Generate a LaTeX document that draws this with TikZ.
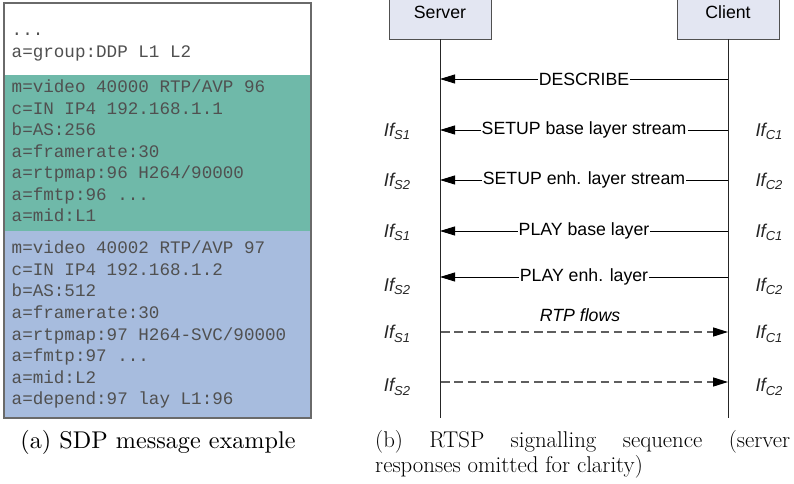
\documentclass[tikz,border=0pt]{standalone}
\usepackage{fontspec}
\newfontfamily\arial{Liberation Sans}
\newfontfamily\cour{Liberation Mono}
\usetikzlibrary{arrows.meta}

\definecolor{sdpteal}{HTML}{6FB9A9}
\definecolor{sdpblue}{HTML}{A7BCDE}
\definecolor{sdptext}{HTML}{505050}
\definecolor{sdpframe}{HTML}{6A6A6A}
\definecolor{actorfill}{HTML}{E3E6F2}
\definecolor{actorline}{HTML}{505050}
\definecolor{flowgray}{HTML}{5E5E5E}

\tikzset{
  sdp/.style={font=\cour\fontsize{17.6bp}{21.5bp}\selectfont, text=sdptext,
    anchor=base west, inner sep=0pt},
  actor/.style={draw=actorline, fill=actorfill, line width=0.9bp,
    minimum width=102bp, minimum height=54bp, inner sep=0pt,
    font=\arial\fontsize{17.7bp}{20bp}\selectfont},
  lifeline/.style={line width=0.9bp, draw=black!85},
  msg/.style={font=\arial\fontsize{17.7bp}{20bp}\selectfont, fill=white,
    inner sep=1.2bp},
  iface/.style={font=\arial\itshape\fontsize{18.5bp}{20bp}\selectfont,
    inner sep=0pt, anchor=base, text=black!85},
  call/.style={line width=0.9bp, -{Triangle[length=15bp,width=9bp]}},
  flow/.style={line width=1.4bp, draw=flowgray, dash pattern=on 8.5bp off 4.8bp,
    -{Triangle[length=15bp,width=9bp,color=black]}},
  captext/.style={font=\fontsize{22.8bp}{26bp}\selectfont, inner sep=0pt, anchor=base west},
}

% interface label with an italic subscript
\newcommand{\ifl}[1]{If\raisebox{-3.5bp}{\fontsize{13bp}{13bp}\selectfont #1}}
% three dots typed as plain periods
\newcommand{\tdots}{...}

\begin{document}
\begin{tikzpicture}[x=1bp,y=-1bp]
\useasboundingbox (0,0) rectangle (794,484);
\clip (0,0) rectangle (794,484);

% ---------- SDP message ----------
\fill[white]    (4,3)   rectangle (311,75);
\fill[sdpteal]  (4,75)  rectangle (311,231);
\fill[sdpblue]  (4,231) rectangle (311,418);
\draw[sdpframe, line width=2bp] (4,3) rectangle (311,418);

\foreach \txt [count=\i] in {{\tdots},{a=group:DDP L1 L2}}
  \node[sdp] (w\i) at (11.5,{36+21.5*(\i-1)}) {\txt};

\foreach \txt [count=\i] in {{m=video 40000 RTP/AVP 96},{c=IN IP4 192.168.1.1},
    {b=AS:256},{a=framerate:30},{a=rtpmap:96 H264/90000},{a=fmtp:96 \tdots},{a=mid:L1}}
  \node[sdp] (t\i) at (11.5,{93+21.5*(\i-1)}) {\txt};

\foreach \txt [count=\i] in {{m=video 40002 RTP/AVP 97},{c=IN IP4 192.168.1.2},
    {b=AS:512},{a=framerate:30},{a=rtpmap:97 H264-SVC/90000},{a=fmtp:97 \tdots},
    {a=mid:L2},{a=depend:97 lay L1:96}}
  \node[sdp] (b\i) at (11.5,{254+21.5*(\i-1)}) {\txt};

\node[inner sep=0pt, anchor=base] (capa) at (158,448)
  {\scalebox{2.42}{\fontsize{10bp}{12bp}\selectfont (a) SDP message example}};

% ---------- RTSP sequence ----------
\node[actor] (srv) at (440,12) {Server};
\node[actor] (cli) at (728,12) {Client};
\coordinate (srvend) at (440,418);
\coordinate (cliend) at (728,418);
\draw[lifeline] (srv.south) -- (srvend);
\draw[lifeline] (cli.south) -- (cliend);

% requests from client to server
\foreach \yy/\lab [count=\i] in {79/DESCRIBE,130/SETUP base layer stream,
    180/SETUP enh. layer stream,231/PLAY base layer,277/PLAY enh. layer} {
  \coordinate (rc\i) at (728,\yy);
  \coordinate (rs\i) at (440,\yy);
  \draw[call] (rc\i) -- node[msg] (m\i) {\lab} (rs\i);
}

% media flows from server to client
\coordinate (fs1) at (441,332);
\coordinate (fc1) at (728,332);
\coordinate (fs2) at (441,382);
\coordinate (fc2) at (728,382);
\draw[flow] (fs1) -- (fc1);
\draw[flow] (fs2) -- (fc2);
\node[font=\arial\itshape\fontsize{17.7bp}{20bp}\selectfont, inner sep=0pt]
  (rtp) at (580,315) {RTP flows};

% interface labels
\foreach \yy/\n [count=\i] in {130/1,180/2,231/1,285/2,332/1,385/2} {
  \node[iface] (ls\i) at (397,\yy+6.5) {\ifl{S\n}};
  \node[iface] (lc\i) at (769,\yy+6.5) {\ifl{C\n}};
}

\node[captext] (capb1) at (375,447)
  {\makebox[415bp][s]{(b) RTSP signalling sequence (server}};
\node[captext] (capb2) at (375,472) {responses omitted for clarity)};
\end{tikzpicture}
\end{document}
